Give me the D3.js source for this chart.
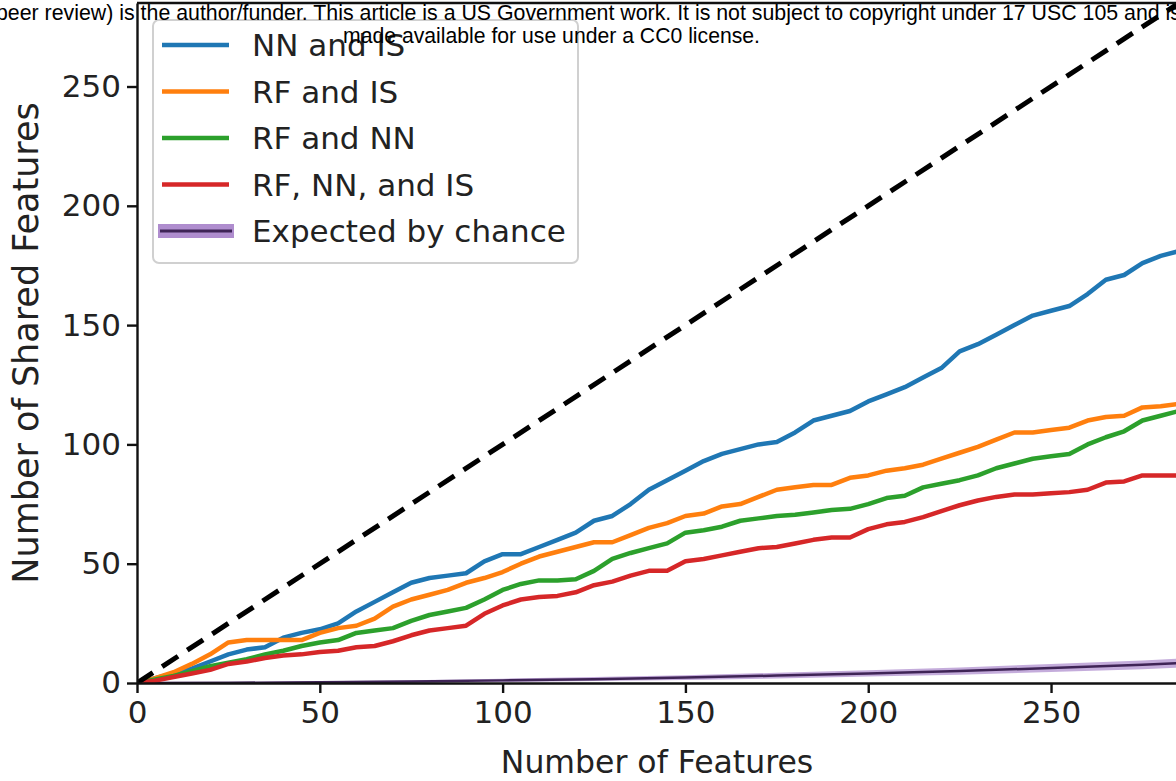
<!DOCTYPE html>
<html lang="en">
  <head>
    <meta charset="utf-8">
    <title>Shared Features</title>
    <style>
      html, body { margin: 0; padding: 0; background: #fff; overflow: hidden; }
      .axis text { font-family: "DejaVu Sans", sans-serif; font-size: 31px; fill: #222; }
      .axis path, .axis line { stroke: #111; stroke-width: 2.4px; }
      .label { font-family: "DejaVu Sans", sans-serif; fill: #222; }
      .legend text { font-family: "DejaVu Sans", sans-serif; font-size: 31px; fill: #222; }
      .banner { font-family: "Liberation Sans", Arial, sans-serif; font-size: 22.5px; fill: #000; }
    </style>
  </head>
  <body>
    <div id="container"></div>
    <script src="https://cdn.jsdelivr.net/npm/d3@7"></script>
    <script type="text/javascript">
      // number of features (shared grid for the four overlap curves)
      var features = [0, 5, 10, 15, 20, 25, 30, 35, 40, 45, 50, 55, 60, 65, 70, 75, 80, 85, 90, 95,
        100, 105, 110, 115, 120, 125, 130, 135, 140, 145, 150, 155, 160, 165, 170, 175, 180, 185, 190, 195,
        200, 205, 210, 215, 220, 225, 230, 235, 240, 245, 250, 255, 260, 265, 270, 275, 280, 285];

      var nnAndIs = [0, 2, 4, 6, 9, 12, 14, 15, 19, 21, 22.5, 25, 30, 34, 38, 42, 44, 45, 46, 51,
        54, 54, 57, 60, 63, 68, 70, 75, 81, 85, 89, 93, 96, 98, 100, 101, 105, 110, 112, 114,
        118, 121, 124, 128, 132, 139, 142, 146, 150, 154, 156, 158, 163, 169, 171, 176, 179, 181];

      var rfAndIs = [0, 2, 4.5, 8, 12, 17, 18, 18, 18, 18, 21, 23, 24, 27, 32, 35, 37, 39, 42, 44,
        46.5, 50, 53, 55, 57, 59, 59, 62, 65, 67, 70, 71, 74, 75, 78, 81, 82, 83, 83, 86,
        87, 89, 90, 91.5, 94, 96.5, 99, 102, 105, 105, 106, 107, 110, 111.5, 112, 115.5, 116, 117];

      var rfAndNn = [0, 1.5, 3, 5, 7, 8.5, 10, 12, 13.5, 15.5, 17, 18, 21, 22, 23, 26, 28.5, 30, 31.5, 35,
        39, 41.5, 43, 43, 43.5, 47, 52, 54.5, 56.5, 58.5, 63, 64, 65.5, 68, 69, 70, 70.5, 71.5, 72.5, 73,
        75, 77.5, 78.5, 82, 83.5, 85, 87, 90, 92, 94, 95, 96, 100, 103, 105.5, 110, 112, 114];

      var rfNnAndIs = [0, 1, 2.5, 4, 5.5, 8, 9, 10.5, 11.5, 12, 13, 13.5, 15, 15.5, 17.5, 20, 22, 23, 24, 29,
        32.5, 35, 36, 36.5, 38, 41, 42.5, 45, 47, 47, 51, 52, 53.5, 55, 56.5, 57, 58.5, 60, 61, 61,
        64.5, 66.5, 67.5, 69.5, 72, 74.5, 76.5, 78, 79, 79, 79.5, 80, 81, 84, 84.5, 87, 87, 87];

      // expected overlap by chance, with its band
      var chanceFeatures = [0, 25, 50, 75, 100, 125, 150, 175, 200, 225, 250, 275, 285];
      var chanceMean = [0, 0.1, 0.3, 0.6, 1.1, 1.6, 2.3, 3.1, 4, 5, 6.3, 7.6, 8.3];
      var chanceLow = [0, 0, 0, 0.1, 0.4, 0.8, 1.3, 1.9, 2.7, 3.5, 4.6, 5.8, 6.4];
      var chanceHigh = [0, 0.3, 0.7, 1.2, 1.8, 2.5, 3.3, 4.3, 5.3, 6.5, 8, 9.4, 10.2];

      // y = x reference line end points
      var identity = [0, 285];

      var tickValues = [0, 50, 100, 150, 200, 250];

      var series = [
        {name: "NN and IS", values: nnAndIs, color: "#1f77b4"},
        {name: "RF and IS", values: rfAndIs, color: "#ff7f0e"},
        {name: "RF and NN", values: rfAndNn, color: "#2ca02c"},
        {name: "RF, NN, and IS", values: rfNnAndIs, color: "#d62728"}
      ];

      var width = 1176, height = 781;

      var svg = d3.select("#container")
        .append("svg")
          .attr("width", width)
          .attr("height", height);

      var x = d3.scaleLinear().domain([0, 285]).range([137, 1179]);
      var y = d3.scaleLinear().domain([0, 285]).range([683, 3]);

      svg.append("clipPath").attr("id", "plot-clip")
        .append("rect")
          .attr("x", x(0)).attr("y", y(285))
          .attr("width", x(285) - x(0)).attr("height", y(0) - y(285));

      var plot = svg.append("g").attr("clip-path", "url(#plot-clip)");

      // chance band + line
      var band = d3.area()
        .x(function(d, i) { return x(chanceFeatures[i]); })
        .y0(function(d, i) { return y(chanceLow[i]); })
        .y1(function(d, i) { return y(chanceHigh[i]); });

      plot.append("path")
        .datum(chanceMean)
        .attr("d", band)
        .style("fill", "#9467bd")
        .style("fill-opacity", 0.55);

      plot.append("path")
        .datum(chanceMean)
        .attr("d", d3.line()
          .x(function(d, i) { return x(chanceFeatures[i]); })
          .y(function(d) { return y(d); }))
        .style("fill", "none")
        .style("stroke", "#3f2456")
        .style("stroke-width", 2.5);

      var line = d3.line()
        .x(function(d, i) { return x(features[i]); })
        .y(function(d) { return y(d); });

      plot.selectAll(".series")
        .data(series)
        .enter().append("path")
          .attr("class", "series")
          .attr("d", function(s) { return line(s.values); })
          .style("fill", "none")
          .style("stroke", function(s) { return s.color; })
          .style("stroke-width", 4.5)
          .style("stroke-linejoin", "round");

      plot.append("path")
        .datum(identity)
        .attr("d", d3.line().x(function(d) { return x(d); }).y(function(d) { return y(d); }))
        .style("fill", "none")
        .style("stroke", "#000")
        .style("stroke-width", 5)
        .style("stroke-dasharray", "19,11");

      // axes
      svg.append("g")
        .attr("class", "axis")
        .attr("transform", "translate(0," + y(0) + ")")
        .call(d3.axisBottom(x).tickValues(tickValues).tickSize(10).tickSizeOuter(0).tickPadding(8));

      svg.append("g")
        .attr("class", "axis")
        .attr("transform", "translate(" + x(0) + ",0)")
        .call(d3.axisLeft(y).tickValues(tickValues).tickSize(10).tickSizeOuter(0).tickPadding(6));

      // top and right spines
      svg.append("line")
        .attr("x1", x(0)).attr("x2", x(285))
        .attr("y1", y(285)).attr("y2", y(285))
        .style("stroke", "#111").style("stroke-width", 2.4);
      svg.append("line")
        .attr("x1", x(285)).attr("x2", x(285))
        .attr("y1", y(0)).attr("y2", y(285))
        .style("stroke", "#111").style("stroke-width", 2.4);

      svg.append("text")
        .attr("class", "label")
        .attr("x", 657).attr("y", 773)
        .attr("text-anchor", "middle")
        .style("font-size", "31.5px")
        .text("Number of Features");

      svg.append("text")
        .attr("class", "label")
        .attr("transform", "translate(38,343) rotate(-90)")
        .attr("text-anchor", "middle")
        .style("font-size", "35px")
        .text("Number of Shared Features");

      // legend
      var legend = svg.append("g").attr("class", "legend");

      legend.append("rect")
        .attr("x", 153).attr("y", 20)
        .attr("width", 425).attr("height", 243)
        .attr("rx", 6)
        .style("fill", "#fff").style("fill-opacity", 0.8)
        .style("stroke", "#d0d0d0").style("stroke-width", 2);

      var rowY = function(i) { return 45 + i * 46.5; };

      legend.selectAll(".handle")
        .data(series)
        .enter().append("line")
          .attr("x1", 162).attr("x2", 229)
          .attr("y1", function(s, i) { return rowY(i); })
          .attr("y2", function(s, i) { return rowY(i); })
          .style("stroke", function(s) { return s.color; })
          .style("stroke-width", 4.5);

      legend.append("rect")
        .attr("x", 158).attr("y", rowY(4) - 7)
        .attr("width", 76).attr("height", 14)
        .style("fill", "#9467bd").style("fill-opacity", 0.75);
      legend.append("line")
        .attr("x1", 160).attr("x2", 232)
        .attr("y1", rowY(4)).attr("y2", rowY(4))
        .style("stroke", "#3f2456").style("stroke-width", 3);

      var names = series.map(function(s) { return s.name; }).concat(["Expected by chance"]);

      legend.selectAll(".entry")
        .data(names)
        .enter().append("text")
          .attr("class", "entry")
          .attr("x", 252)
          .attr("y", function(d, i) { return rowY(i); })
          .attr("dy", "0.36em")
          .text(function(d) { return d; });

      // preprint banner on top of the figure
      svg.append("text")
        .attr("class", "banner")
        .attr("x", -4).attr("y", 20)
        .attr("textLength", 1185)
        .attr("lengthAdjust", "spacingAndGlyphs")
        .text("peer review) is the author/funder. This article is a US Government work. It is not subject to copyright under 17 USC 105 and is");

      svg.append("text")
        .attr("class", "banner")
        .attr("x", 343).attr("y", 43)
        .attr("textLength", 417)
        .attr("lengthAdjust", "spacingAndGlyphs")
        .text("made available for use under a CC0 license.");
    </script>
  </body>
</html>
